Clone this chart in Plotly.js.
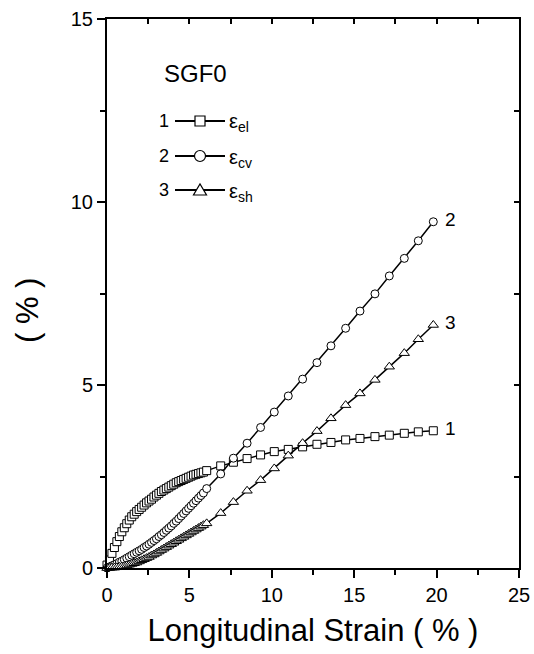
<!DOCTYPE html>
<html>
<head>
<meta charset="utf-8">
<script src="https://cdn.plot.ly/plotly-3.0.1.min.js"></script>
<style>html,body{margin:0;padding:0;background:#fff;}#chart{width:534px;height:654px;}</style>
</head>
<body>
<div id="chart"></div>
<script>
// Longitudinal strain (%), dense part (start of loading)
const xDense = [0,0.15,0.3,0.45,0.6,0.75,0.9,1.05,1.2,1.35,1.5,1.65,1.8,1.95,2.1,2.25,2.4,2.55,2.7,2.85,3.0,3.15,3.3,3.45,3.6,3.75,3.9,4.05,4.2,4.35,4.5,4.65,4.8,4.95,5.1,5.25,5.4,5.55,5.7,5.85];
// Longitudinal strain (%), sparse part
const xSparse = [6.05,6.90,7.67,8.50,9.32,10.15,11.00,11.87,12.74,13.59,14.48,15.35,16.26,17.13,18.04,18.89,19.80];

// Series 1: eps_el
const elDense = [0.08,0.22,0.40,0.56,0.72,0.86,0.99,1.10,1.21,1.31,1.40,1.47,1.54,1.60,1.66,1.72,1.78,1.83,1.88,1.94,1.99,2.04,2.09,2.13,2.17,2.21,2.25,2.29,2.33,2.36,2.39,2.42,2.45,2.48,2.51,2.54,2.56,2.58,2.60,2.62];
const elSparse = [2.66,2.79,2.89,2.99,3.09,3.18,3.24,3.31,3.38,3.43,3.50,3.54,3.59,3.63,3.68,3.72,3.75];
// Series 2: eps_cv
const cvDense = [0,0.03,0.06,0.09,0.12,0.16,0.19,0.23,0.27,0.31,0.35,0.39,0.43,0.47,0.51,0.56,0.60,0.65,0.70,0.75,0.80,0.86,0.91,0.97,1.03,1.09,1.15,1.22,1.28,1.35,1.42,1.49,1.56,1.63,1.70,1.77,1.84,1.91,1.98,2.05];
const cvSparse = [2.17,2.57,3.00,3.41,3.84,4.26,4.70,5.16,5.61,6.07,6.55,7.02,7.49,7.98,8.46,8.94,9.46];
// Series 3: eps_sh
const shDense = [0,0,0.01,0.01,0.02,0.03,0.04,0.05,0.07,0.09,0.11,0.13,0.15,0.18,0.21,0.24,0.27,0.30,0.34,0.37,0.41,0.45,0.49,0.53,0.57,0.61,0.65,0.69,0.73,0.77,0.81,0.85,0.89,0.93,0.97,1.01,1.05,1.09,1.13,1.17];
const shSparse = [1.22,1.50,1.80,2.11,2.40,2.72,3.07,3.41,3.74,4.09,4.45,4.77,5.14,5.50,5.87,6.25,6.64];

const seriesNames = ['ε<sub>el</sub>','ε<sub>cv</sub>','ε<sub>sh</sub>'];
const seriesNums = ['1','2','3'];
const symbols = ['square','circle','triangle-up'];
const xTicks = [0,5,10,15,20,25];
const yTicks = [0,5,10,15];

const xAll = xDense.concat(xSparse);
const ys = [elDense.concat(elSparse), cvDense.concat(cvSparse), shDense.concat(shSparse)];

const FONT = 'Liberation Sans, Arial, Helvetica, sans-serif';
const W = 534, H = 654, ML = 107, MR = 15, MT = 19, MB = 86;
const PW = W - ML - MR, PH = H - MT - MB;
const px = v => (v - ML) / PW;          // pixel -> paper x
const py = v => (H - MB - v) / PH;      // pixel -> paper y

const traces = ys.map((y,i)=>({
  x: xAll, y: y, type:'scatter', mode:'lines+markers', name: seriesNames[i],
  line:{color:'#000', width:1.5},
  marker:{symbol: symbols[i], size: i===2?9:8, color:'#fff', line:{color:'#000', width:1}},
  cliponaxis:false, showlegend:false
}));
traces.push({x:[], y:[], xaxis:'x2', yaxis:'y2', showlegend:false, type:'scatter'});

// End labels at the last point of each series
const annotations = ys.map((y,i)=>({
  x: xAll[xAll.length-1], y: y[y.length-1], xref:'x', yref:'y', text: seriesNums[i],
  showarrow:false, xanchor:'left', xshift:10, yshift:2, font:{family:FONT, size:19, color:'#000'}
}));
annotations.push({x:px(195), y:py(73), xref:'paper', yref:'paper', text:'SGF0', showarrow:false,
  xanchor:'center', yanchor:'middle', font:{family:FONT, size:24, color:'#000'}});

// Hand-drawn legend (number, line with symbol, label)
const rowY = [121, 156, 190];
const shapes = [];
seriesNums.forEach((n,i)=>{
  const cy = rowY[i];
  annotations.push({x:px(164), y:py(cy), xref:'paper', yref:'paper', text:n, showarrow:false,
    xanchor:'center', yanchor:'middle', font:{family:FONT, size:18, color:'#000'}});
  annotations.push({x:px(227), y:py(cy+2), xref:'paper', yref:'paper', text:seriesNames[i], showarrow:false,
    xanchor:'left', yanchor:'middle', font:{family:FONT, size:20, color:'#000'}});
  shapes.push({type:'line', xref:'paper', yref:'paper', x0:px(175), x1:px(225), y0:py(cy), y1:py(cy),
    line:{color:'#000', width:2}});
  const k = {xref:'paper', yref:'paper', fillcolor:'#fff', line:{color:'#000', width:1.2}};
  if (i===0) shapes.push(Object.assign({type:'rect', x0:px(195), x1:px(205), y0:py(cy+5), y1:py(cy-5)}, k));
  if (i===1) shapes.push(Object.assign({type:'circle', x0:px(194.5), x1:px(205.5), y0:py(cy+5.5), y1:py(cy-5.5)}, k));
  if (i===2) {
    const xl = px(193.5), xr = px(206.5), xm = px(200), yb = py(cy+5), yt = py(cy-6);
    shapes.push(Object.assign({type:'path', path:`M ${xl} ${yb} L ${xr} ${yb} L ${xm} ${yt} Z`}, k));
  }
});

// y-axis title
annotations.push({x:px(27), y:py(311), xref:'paper', yref:'paper', text:'( % )', textangle:-90, showarrow:false,
  xanchor:'center', yanchor:'middle', font:{family:FONT, size:31, color:'#000'}});

const layout = {
  width:W, height:H,
  margin:{l:ML, r:MR, t:MT, b:MB},
  paper_bgcolor:'#fff', plot_bgcolor:'#fff',
  font:{family:FONT, color:'#000'},
  showlegend:false,
  xaxis:{range:[0,25], tickvals:xTicks, ticks:'outside', ticklen:8, tickwidth:2, tickcolor:'#000',
    showline:true, linewidth:2, linecolor:'#000', mirror:true, showgrid:false, zeroline:false,
    minor:{ticks:'outside', tickvals:[2.5,7.5,12.5,17.5,22.5], ticklen:5, tickwidth:2, tickcolor:'#000', showgrid:false},
    tickfont:{family:FONT, size:20, color:'#000'},
    title:{text:'Longitudinal Strain ( % )', font:{family:FONT, size:31, color:'#000'}, standoff:14}},
  yaxis:{range:[0,15], tickvals:yTicks, ticks:'outside', ticklen:8, tickwidth:2, tickcolor:'#000',
    showline:true, linewidth:2, linecolor:'#000', mirror:true, showgrid:false, zeroline:false,
    minor:{ticks:'outside', tickvals:[2.5,7.5,12.5], ticklen:5, tickwidth:2, tickcolor:'#000', showgrid:false},
    tickfont:{family:FONT, size:20, color:'#000'}},
  xaxis2:{range:[0,25], overlaying:'x', side:'top', anchor:'y2', tickvals:[2.5,5,7.5,10,12.5,15,17.5,20,22.5],
    ticks:'inside', ticklen:5, tickwidth:2, tickcolor:'#000', showticklabels:false, showgrid:false, zeroline:false, showline:false},
  yaxis2:{range:[0,15], overlaying:'y', side:'right', anchor:'x2', tickvals:[2.5,5,7.5,10,12.5],
    ticks:'inside', ticklen:5, tickwidth:2, tickcolor:'#000', showticklabels:false, showgrid:false, zeroline:false, showline:false},
  annotations: annotations,
  shapes: shapes
};

Plotly.newPlot('chart', traces, layout, {displayModeBar:false, staticPlot:true});
</script>
</body>
</html>
